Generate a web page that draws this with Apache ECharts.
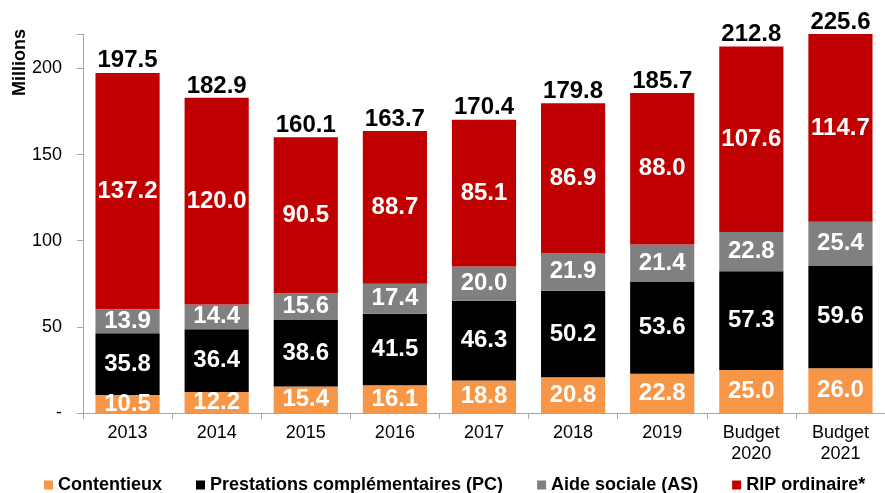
<!DOCTYPE html>
<html><head><meta charset="utf-8">
<script src="https://cdn.jsdelivr.net/npm/echarts@6/dist/echarts.min.js"></script>
<style>html,body{margin:0;padding:0;background:#fff}#c{width:885px;height:493px}</style>
</head><body><div id="c"></div>
<script>
var categories = ['2013','2014','2015','2016','2017','2018','2019','Budget\n2020','Budget\n2021'];
var contentieux = [10.5,12.2,15.4,16.1,18.8,20.8,22.8,25.0,26.0];
var prestations = [35.8,36.4,38.6,41.5,46.3,50.2,53.6,57.3,59.6];
var aideSociale = [13.9,14.4,15.6,17.4,20.0,21.9,21.4,22.8,25.4];
var ripOrdinaire = [137.2,120.0,90.5,88.7,85.1,86.9,88.0,107.6,114.7];
var totals = [197.5,182.9,160.1,163.7,170.4,179.8,185.7,212.8,225.6];
var yTicks = [0,50,100,150,200];
var yMax = 220;

var FONT = '"Liberation Sans", Arial, sans-serif';
var inner = {show:true, position:'inside', color:'#fff', fontSize:24, fontWeight:'bold', fontFamily:FONT,
  formatter:function(p){return p.value.toFixed(1);}};
function barSeries(name, data, color){
  return {name:name, type:'bar', stack:'s', data:data, barCategoryGap:'28%',
    itemStyle:{color:color}, label:inner, emphasis:{disabled:true}};
}
// total labels sit on the (clipped) top of each stack
var totalPoints = totals.map(function(t){ return {value:Math.min(t, yMax), total:t}; });
var chart = echarts.init(document.getElementById('c'), null, {renderer:'canvas'});
chart.setOption({
  animation:false,
  textStyle:{fontFamily:FONT},
  grid:{left:83, right:0, top:34, bottom:80},
  legend:{top:471, left:39, icon:'rect', itemWidth:9, itemHeight:9, itemGap:34,
    data:['Contentieux','Prestations complémentaires (PC)','Aide sociale (AS)','RIP ordinaire*'],
    textStyle:{fontSize:18, fontWeight:'bold', color:'#000', fontFamily:FONT}},
  xAxis:{type:'category', data:categories,
    axisLine:{lineStyle:{color:'#A6A6A6', width:1}},
    axisTick:{show:true, alignWithLabel:false, length:6, lineStyle:{color:'#A6A6A6'}},
    axisLabel:{color:'#000', fontSize:18, fontFamily:FONT, lineHeight:21, margin:10}},
  yAxis:{type:'value', min:0, max:yMax, interval:50,
    axisLine:{show:true, lineStyle:{color:'#A6A6A6'}},
    axisTick:{show:true, length:6, lineStyle:{color:'#A6A6A6'}},
    splitLine:{show:false},
    axisLabel:{color:'#000', fontSize:18, fontFamily:FONT, margin:21,
      formatter:function(v){ return yTicks.indexOf(v)<0 ? '' : (v===0 ? '-' : String(v)); }}},
  graphic:[{type:'text', left:11, top:29, rotation:Math.PI/2,
    style:{text:'Millions', font:'bold 18px '+FONT, fill:'#000'}}],
  series:[
    barSeries('Contentieux', contentieux, '#F79646'),
    barSeries('Prestations complémentaires (PC)', prestations, '#000000'),
    barSeries('Aide sociale (AS)', aideSociale, '#808080'),
    barSeries('RIP ordinaire*', ripOrdinaire, '#C00000'),
    {name:'Total', type:'line', data:totalPoints, symbol:'circle', symbolSize:0, showSymbol:true, clip:false,
     lineStyle:{width:0, opacity:0}, itemStyle:{color:'#000'},
     label:{show:true, position:'top', distance:0, color:'#000', opacity:1, fontSize:24, fontWeight:'bold', fontFamily:FONT,
       formatter:function(p){return p.data.total.toFixed(1);}}, emphasis:{disabled:true}, z:10}
  ]
});
</script></body></html>
